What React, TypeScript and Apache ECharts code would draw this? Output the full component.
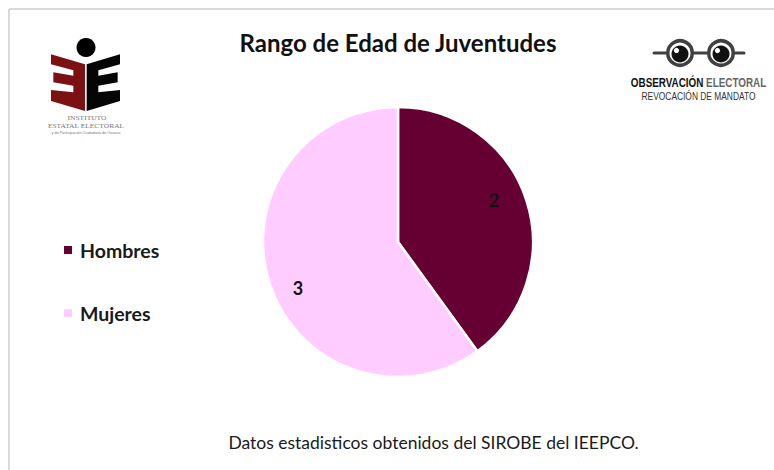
import React, { useEffect, useRef } from "react";
import * as echarts from "echarts";

const titleText = "Rango de Edad de Juventudes";
const footerText = "Datos estadisticos obtenidos del SIROBE del IEEPCO.";
const categories = ["Hombres", "Mujeres"];
const values = [2, 3];
const colors = ["#660033", "#FFCCFF"];
const labelShift = [
  { dx: 29, dy: -20 },
  { dx: -33, dy: 24 },
];

const FONT = "Lato, 'Open Sans', sans-serif";
const SANS = "'Liberation Sans', sans-serif";

const toLogo = (pts: number[][]) => pts.map(([x, y]) => [45 + x / 3, 35 + y / 3]);
const redPts = toLogo([
  [18, 58], [120, 88], [120, 228], [18, 198], [18, 165], [85, 172], [85, 152],
  [25, 142], [25, 112], [85, 122], [85, 106], [18, 88],
]);
const blackPts = toLogo([
  [125, 88], [225, 58], [225, 88], [160, 106], [160, 122], [218, 112], [218, 142],
  [160, 152], [160, 172], [225, 165], [225, 198], [125, 228],
]);

function glasses() {
  const dark = "#404040";
  const ring = (cx: number) => [
    { type: "circle", shape: { cx, cy: 53, r: 12.25 }, style: { fill: "#fff", stroke: dark, lineWidth: 3.5 } },
    { type: "circle", shape: { cx, cy: 54, r: 8.5 }, style: { fill: "#111" } },
    { type: "circle", shape: { cx: cx - 3.5, cy: 50.5, r: 2.6 }, style: { fill: "#fff" } },
  ];
  const bar = (x1: number, x2: number) => ({
    type: "line",
    shape: { x1, y1: 53, x2, y2: 53 },
    style: { stroke: dark, lineWidth: 3, lineCap: "round" },
  });
  return [bar(654, 666), bar(694, 707), bar(735, 744), ...ring(680), ...ring(721)];
}

export default function App() {
  const ref = useRef<HTMLDivElement>(null);
  useEffect(() => {
    document.body.style.margin = "0";
    const chart = echarts.init(ref.current!, undefined, { renderer: "svg" });
    chart.setOption({
      animation: false,
      backgroundColor: "#ffffff",
      title: [
        {
          text: titleText,
          left: 393,
          top: 25,
          textAlign: "center",
          textStyle: { fontFamily: FONT, fontSize: 24, fontWeight: "bold", color: "#111111" },
        },
        {
          text: footerText,
          left: 428.5,
          top: 428,
          textAlign: "center",
          textStyle: { fontFamily: FONT, fontSize: 17.5, fontWeight: "normal", color: "#1a1a1a" },
        },
      ],
      legend: {
        orient: "vertical",
        left: 57,
        top: 235,
        icon: "rect",
        itemWidth: 10,
        itemHeight: 10,
        itemGap: 43.3,
        data: categories,
        textStyle: { fontFamily: FONT, fontSize: 19.5, fontWeight: "bold", color: "#1a1a1a", padding: [0, 0, 0, 2] },
      },
      series: [
        {
          type: "pie",
          center: [398, 242],
          radius: 135,
          startAngle: 90,
          clockwise: true,
          silent: true,
          data: categories.map((name, i) => ({
            name,
            value: values[i],
            itemStyle: { color: colors[i] },
          })),
          itemStyle: { borderColor: "#ffffff", borderWidth: 2.5 },
          label: {
            show: true,
            position: "inner",
            formatter: "{c}",
            fontFamily: FONT,
            fontSize: 18,
            fontWeight: "bold",
            color: "#111111",
          },
          labelLine: { show: false },
          labelLayout: (p: any) => labelShift[p.dataIndex],
        },
      ],
      graphic: [
        { type: "line", shape: { x1: 9, y1: 9, x2: 774, y2: 9 }, style: { stroke: "#d9d9d9", lineWidth: 2 } },
        { type: "line", shape: { x1: 9, y1: 9, x2: 9, y2: 470 }, style: { stroke: "#d9d9d9", lineWidth: 2 } },
        { type: "polygon", shape: { points: redPts }, style: { fill: "#7b1113" } },
        { type: "polygon", shape: { points: blackPts }, style: { fill: "#050505" } },
        { type: "circle", shape: { cx: 86, cy: 47.5, r: 9.5 }, style: { fill: "#000" } },
        {
          type: "text", x: 87, y: 118.5, scaleX: 1.15,
          style: { text: "INSTITUTO", align: "center", verticalAlign: "middle", fontFamily: "'Liberation Serif', serif", fontSize: 6.5, fill: "#777" },
        },
        {
          type: "text", x: 86, y: 126, scaleX: 1.15,
          style: { text: "ESTATAL ELECTORAL", align: "center", verticalAlign: "middle", fontFamily: "'Liberation Serif', serif", fontSize: 6.5, fill: "#777" },
        },
        {
          type: "text", x: 86, y: 133,
          style: { text: "y de Participación Ciudadana de Oaxaca", align: "center", verticalAlign: "middle", fontFamily: SANS, fontSize: 3.8, fill: "#777" },
        },
        ...glasses(),
        {
          type: "text", x: 698.5, y: 83, scaleX: 0.79,
          style: {
            text: "{a|OBSERVACIÓN} {b|ELECTORAL}",
            align: "center",
            verticalAlign: "middle",
            rich: {
              a: { fontFamily: SANS, fontSize: 12.5, fontWeight: "bold", fill: "#111" },
              b: { fontFamily: SANS, fontSize: 12.5, fontWeight: "bold", fill: "#666" },
            },
          },
        },
        {
          type: "text", x: 698.5, y: 96, scaleX: 0.8,
          style: { text: "REVOCACIÓN DE MANDATO", align: "center", verticalAlign: "middle", fontFamily: SANS, fontSize: 10.5, fill: "#333" },
        },
      ],
    });
    return () => chart.dispose();
  }, []);
  return <div ref={ref} style={{ width: 774, height: 470 }} />;
}
